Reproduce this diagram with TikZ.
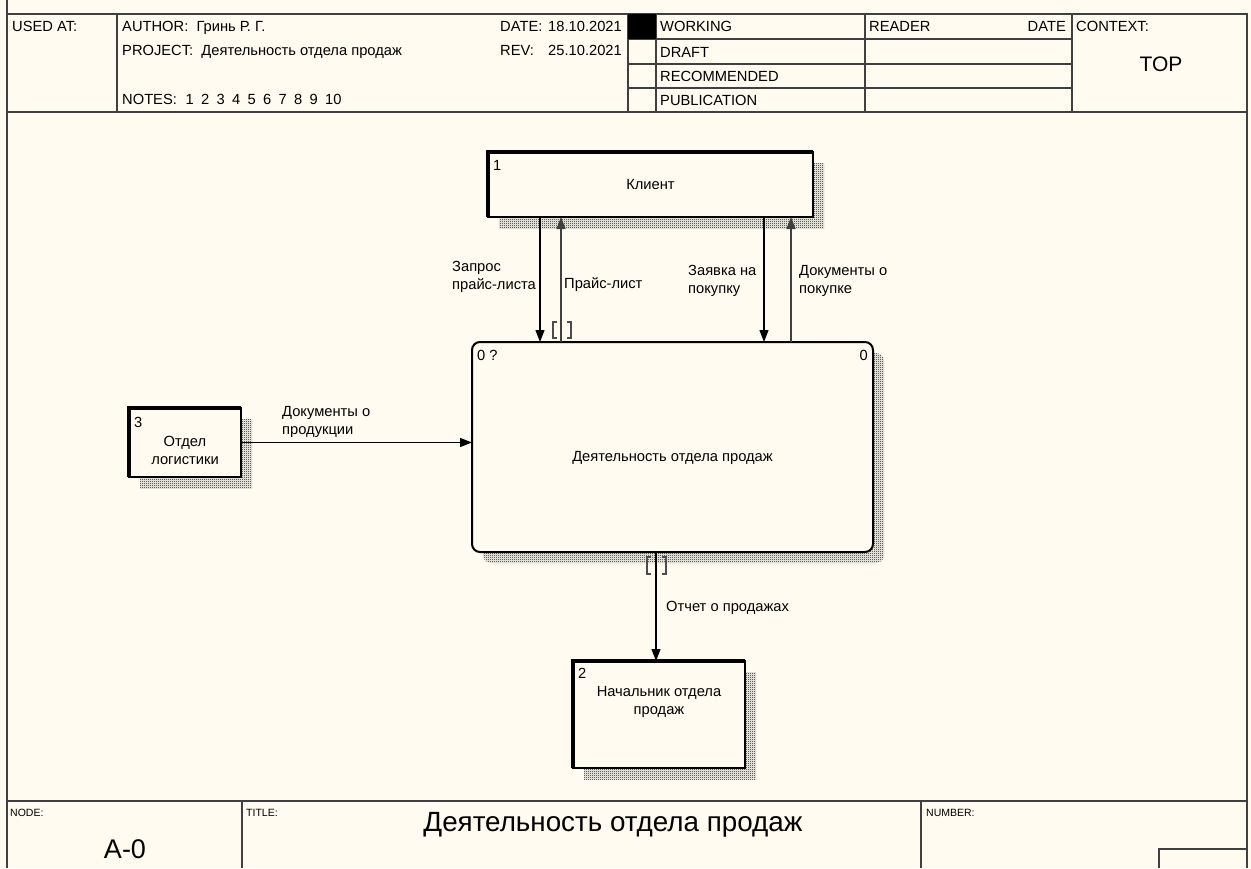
\documentclass[tikz,border=0pt]{standalone}
\usepackage{fontspec}
\setmainfont{Liberation Sans}
\usetikzlibrary{arrows.meta,shadows,patterns}

\definecolor{paper}{RGB}{255,251,240}
\definecolor{rulegray}{RGB}{64,64,64}

% 1px checker like the screen dither of the shadows
\pgfdeclarepatternformonly{dither}{\pgfpointorigin}{\pgfqpoint{2pt}{2pt}}{\pgfqpoint{2pt}{2pt}}{
  \pgfpathrectangle{\pgfpointorigin}{\pgfqpoint{1pt}{1pt}}
  \pgfpathrectangle{\pgfqpoint{1pt}{1pt}}{\pgfqpoint{1pt}{1pt}}
  \pgfusepath{fill}}

\begin{document}
\begin{tikzpicture}[x=1pt,y=-1pt,
    every node/.style={font=\fontsize{14.7}{18}\selectfont, inner sep=0pt},
    frame/.style={draw=rulegray, line width=2pt},
    cell/.style={draw=rulegray, line width=1.5pt},
    tx/.style={anchor=base west},
    small/.style={tx, font=\fontsize{10.5}{12}\selectfont},
    hatch/.style={general shadow={shadow xshift=11pt, shadow yshift=-11pt,
        pattern=dither, pattern color=black!95}},
    ent/.style={draw, line width=2pt, fill=paper, outer sep=0pt, hatch},
    act/.style={draw, line width=2pt, fill=paper, rounded corners=8pt, outer sep=0pt, hatch},
    heavy/.style={line width=4.5pt, line join=miter},
    flow/.style={line width=1.2pt, -{Triangle[length=12pt,width=9pt]}},
    back/.style={flow, draw=black!75, fill=black!75},
    brk/.style={draw=black!70, line width=1.5pt},
    lbl/.style={align=left, anchor=west},
    num/.style={anchor=north west}]

    % sheet
    \fill[paper] (0,0) rectangle (1251,868);
    \useasboundingbox (0,0) rectangle (1251,868);
    \draw[frame] (7,0) -- (7,868);
    \draw[frame] (7,14) -- (1247,14) -- (1247,868);
    \draw[frame] (7,112) -- (1247,112);
    \draw[frame] (7,801) -- (1247,801);

    % header
    \foreach \x in {117,628,656,865,1072} \draw[cell] (\x,14) -- (\x,112);
    \foreach \y in {39,64,88} \draw[cell] (628,\y) -- (1072,\y);
    \fill (628,14) rectangle (656,39);
    \node[tx] (usedat) at (12,31) {USED AT:};
    \node[tx] (author) at (122,31) {AUTHOR:\ \ Гринь Р. Г.};
    \node[tx] (project) at (122,55) {PROJECT:\ \ Деятельность отдела продаж};
    \node[tx] (notes) at (122,104) {NOTES:};
    \foreach \k in {1,...,10} \node[tx] (note\k) at ({170+15.5*\k},104) {\k};
    \node[tx] (date) at (500,31) {DATE:};
    \node[anchor=base east] (dateval) at (622,31) {18.10.2021};
    \node[tx] (rev) at (500,55) {REV:};
    \node[anchor=base east] (revval) at (622,55) {25.10.2021};
    \node[tx] (working) at (660,31) {WORKING};
    \node[tx] (draft) at (660,57) {DRAFT};
    \node[tx] (recom) at (660,81) {RECOMMENDED};
    \node[tx] (publ) at (660,105) {PUBLICATION};
    \node[tx] (reader) at (869,31) {READER};
    \node[anchor=base east] (rdate) at (1066,31) {DATE};
    \node[tx] (context) at (1076,31) {CONTEXT:};
    \node[anchor=base, font=\fontsize{21}{24}\selectfont] (top) at (1161,71) {TOP};

    % footer
    \draw[frame] (242,801) -- (242,868);
    \draw[frame] (921,801) -- (921,868);
    \draw[cell] (1159,868) -- (1159,849) -- (1247,849);
    \node[small] (nodelbl) at (10,816) {NODE:};
    \node[small] (titlelbl) at (246,816) {TITLE:};
    \node[small] (numlbl) at (926,816) {NUMBER:};
    \node[anchor=base, font=\fontsize{27.8}{30}\selectfont] (title) at (613,831) {Деятельность отдела продаж};
    \node[anchor=base, font=\fontsize{27}{30}\selectfont] (nodeid) at (125,858) {A-0};

    % boxes
    \node[ent, minimum width=325pt, minimum height=65pt] (klient) at (650.5,184.5) {Клиент};
    \node[ent, minimum width=112pt, minimum height=69pt] (logist) at (185,442.5) {};
    \node[ent, minimum width=172pt, minimum height=107pt] (nach) at (659,714.5) {};
    \node[act, minimum width=401pt, minimum height=210pt] (main) at (672.5,447) {};
    \draw[heavy] (klient.south west) -- (klient.north west) -- (klient.north east);
    \draw[heavy] (logist.south west) -- (logist.north west) -- (logist.north east);
    \draw[heavy] (nach.south west) -- (nach.north west) -- (nach.north east);
    \node[align=center] (logist-t) at ([yshift=-8pt]logist.center) {Отдел\\логистики};
    \node[align=center] (nach-t) at ([yshift=13pt]nach.center) {Начальник отдела\\продаж};
    \node (main-t) at ([yshift=-11pt]main.center) {Деятельность отдела продаж};
    \node[num] (klient-n) at ([shift={(5,8)}]klient.north west) {1};
    \node[num] (logist-n) at ([shift={(5,9)}]logist.north west) {3};
    \node[num] (nach-n) at ([shift={(5,7)}]nach.north west) {2};
    \node[num] (main-n) at ([shift={(5,8)}]main.north west) {0 ?};
    \node[anchor=north east] (main-n2) at ([shift={(-5,8)}]main.north east) {0};

    % arrows
    \coordinate (c1) at (540,0);
    \coordinate (c2) at (561,0);
    \coordinate (c3) at (764,0);
    \coordinate (c4) at (791,0);
    \coordinate (c5) at (656,0);
    \coordinate (t1) at (main.north -| c2);
    \coordinate (t5) at (main.south -| c5);
    \draw[flow] (klient.south -| c1) -- (main.north -| c1);
    \draw[back] (t1) -- (klient.south -| c2);
    \draw[flow] (klient.south -| c3) -- (main.north -| c3);
    \draw[back] (main.north -| c4) -- (klient.south -| c4);
    \draw[flow] (logist.east) -- (logist.east -| main.west);
    \draw[flow] (t5) -- (nach.north -| c5);
    \draw[brk] ([shift={(-4,-20)}]t1) -- ++(-4,0) -- ++(0,16) -- ++(4,0);
    \draw[brk] ([shift={(6,-20)}]t1) -- ++(4,0) -- ++(0,16) -- ++(-4,0);
    \draw[brk] ([shift={(-5,5)}]t5) -- ++(-4,0) -- ++(0,17) -- ++(4,0);
    \draw[brk] ([shift={(6,5)}]t5) -- ++(4,0) -- ++(0,17) -- ++(-4,0);

    % labels
    \node[lbl] (zapros) at (452,277) {Запрос\\прайс-листа};
    \node[lbl] (price) at (564,285) {Прайс-лист};
    \node[lbl] (zayavka) at (688,281) {Заявка на\\покупку};
    \node[lbl] (docs) at (799,281) {Документы о\\покупке};
    \node[lbl] (prod) at (282,421.5) {Документы о\\продукции};
    \node[lbl] (otchet) at (666,608) {Отчет о продажах};
\end{tikzpicture}
\end{document}
